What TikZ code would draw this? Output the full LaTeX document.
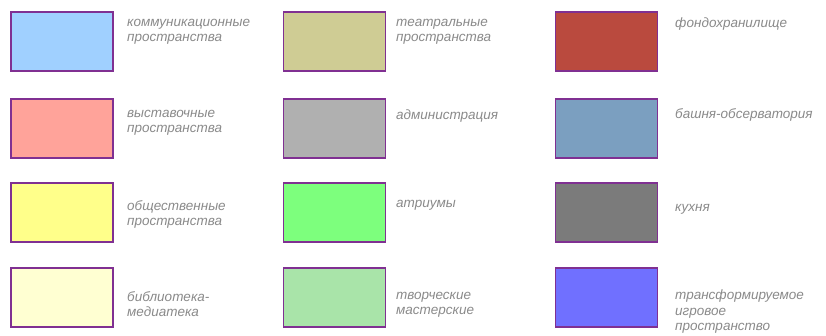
\documentclass[tikz,border=0pt]{standalone}
\usepackage{fontspec}
\setmainfont{Liberation Sans}
\usepackage{tikz}
\usetikzlibrary{positioning}

\definecolor{rim}{RGB}{128,48,146}
\definecolor{captxt}{RGB}{138,138,138}
\definecolor{kommun}{RGB}{160,208,255}
\definecolor{teatr}{RGB}{207,204,148}
\definecolor{fond}{RGB}{186,74,62}
\definecolor{vystav}{RGB}{255,163,154}
\definecolor{admin}{RGB}{176,176,176}
\definecolor{bashnya}{RGB}{123,159,192}
\definecolor{obshch}{RGB}{255,255,138}
\definecolor{atrium}{RGB}{125,255,125}
\definecolor{kukhnya}{RGB}{123,123,123}
\definecolor{biblio}{RGB}{255,255,210}
\definecolor{tvorch}{RGB}{169,228,169}
\definecolor{transf}{RGB}{112,112,255}

\begin{document}
\begin{tikzpicture}[
  x=1pt, y=-1pt,
  swatch/.style={rectangle, draw=rim, line width=1.6pt, inner sep=0pt,
                 minimum width=102pt, minimum height=59pt},
  caption/.style={anchor=north west, align=left, inner sep=0pt,
                  text=captxt, font=\fontsize{13.5}{15.5}\selectfont\itshape,
                  execute at begin node=\strut}
]
  \fill[white] (0,0) rectangle (826,336);
  \useasboundingbox (0,0) rectangle (826,336);

  % first column
  \node[swatch, fill=kommun] (kom) at (62,41.5) {};
  \node[swatch, fill=vystav] (vys) at (62,128.5) {};
  \node[swatch, fill=obshch] (obs) at (62,212.5) {};
  \node[swatch, fill=biblio] (bib) at (62,297.5) {};
  \node[caption] (komtxt) at (127,19) {коммуникационные\\пространства};
  \node[caption] (vystxt) at (127,110) {выставочные\\пространства};
  \node[caption] (obstxt) at (127,200) {общественные\\пространства};
  \node[caption] (bibtxt) at (127,291) {библиотека-\\медиатека};

  % second column
  \node[swatch, fill=teatr]  (tea) at (334.5,41.5) {};
  \node[swatch, fill=admin]  (adm) at (334.5,128.5) {};
  \node[swatch, fill=atrium] (atr) at (334.5,212.5) {};
  \node[swatch, fill=tvorch] (tvo) at (334.5,297.5) {};
  \node[caption] (teatxt) at (396,19) {театральные\\пространства};
  \node[caption] (admtxt) at (396,108) {администрация};
  \node[caption] (atrtxt) at (396,196) {атриумы};
  \node[caption] (tvotxt) at (396,292) {творческие\\мастерские};

  % third column
  \node[swatch, fill=fond]    (fon) at (606.5,41.5) {};
  \node[swatch, fill=bashnya] (bas) at (606.5,128.5) {};
  \node[swatch, fill=kukhnya] (kuh) at (606.5,212.5) {};
  \node[swatch, fill=transf]  (tra) at (606.5,297.5) {};
  \node[caption] (fontxt) at (675,16) {фондохранилище};
  \node[caption] (bastxt) at (675,107) {башня-обсерватория};
  \node[caption] (kuhtxt) at (675,200) {кухня};
  \node[caption] (tratxt) at (675,290) {трансформируемое\\игровое\\пространство};
\end{tikzpicture}
\end{document}
